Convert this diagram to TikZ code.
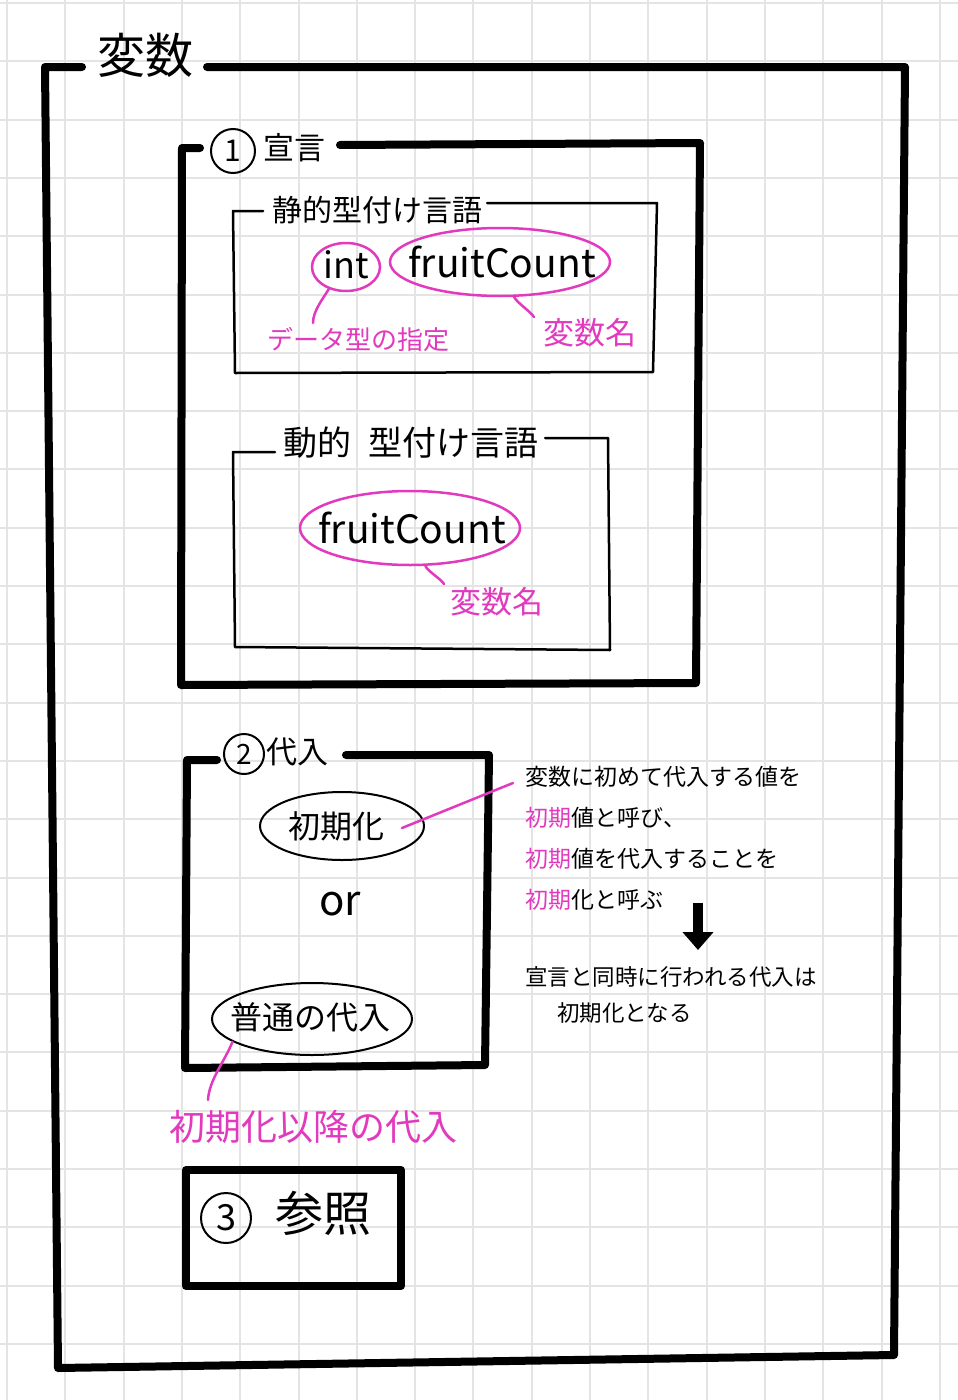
\documentclass[tikz,border=0pt]{standalone}
\usepackage{fontspec}
\setmainfont{Noto Sans CJK JP}
\usetikzlibrary{shapes.geometric,arrows.meta}
\definecolor{pinkc}{RGB}{226,58,190}
\definecolor{gridc}{RGB}{228,228,228}
\begin{document}
\begin{tikzpicture}[x=1pt,y=-1pt,
 gridline/.style={draw=gridc,line width=2pt},
 frame/.style={draw=black,line width=8pt,line cap=round,line join=round},
 thinframe/.style={draw=black,line width=2.5pt,line cap=round,line join=round},
 txt/.style={inner sep=0pt,text=black},
 pinktxt/.style={inner sep=0pt,text=pinkc},
 pinkell/.style={ellipse,draw=pinkc,line width=2.5pt,inner sep=0pt},
 blackell/.style={ellipse,draw=black,line width=2pt,inner sep=0pt},
 pinkline/.style={draw=pinkc,line width=2.5pt,line cap=round},
 numcirc/.style={circle,draw=black,line width=2pt,inner sep=0pt,text=black},
 fs/.style={font=\fontsize{#1}{#1}\selectfont},
]
\useasboundingbox (0,0) rectangle (958,1400);
\fill[white] (0,0) rectangle (958,1400);
% grid
\foreach \i in {0,...,16} \draw[gridline] ({7+58.3*\i},0) -- ({7+58.3*\i},1400);
\foreach \j in {0,...,24} \draw[gridline] (0,{3+58.3*\j}) -- (958,{3+58.3*\j});

% outer frame
\node[txt,fs=48] (title) at (145,55) {変数};
\draw[frame] (82,67) -- (45,67) -- (58,1368) -- (894,1355) -- (905,67) -- (207,67);

% box 1
\node[numcirc,minimum size=44pt,fs=30] (n1) at (233,151) {1};
\node[txt,anchor=west,fs=31] (t1) at (263,148) {宣言};
\draw[frame] (200,148) -- (182,148) -- (181,685) -- (696,683) -- (700,143) -- (340,145);

% static typing
\draw[thinframe] (263,211) -- (233,211) -- (235,373) -- (653,372) -- (657,203) -- (487,203);
\node[txt,fs=30] (st) at (377,210) {静的型付け言語};
\node[pinkell,minimum width=68pt,minimum height=48pt] (intE) at (346,267) {};
\node[txt,fs=36] (intT) at (346,265) {int};
\node[pinkell,minimum width=220pt,minimum height=68pt] (frE) at (500,262) {};
\node[txt,fs=39] (frT) at (502,262) {fruitCount};
\node[pinktxt,fs=26] (dataT) at (358,340) {データ型の指定};
\node[pinktxt,fs=31] (varT) at (590,333) {変数名};
\coordinate (dtop) at (313,323);
\coordinate (vtop) at (534,317);
\draw[pinkline] (intE.232) .. controls +(-6,10) and +(0,-12) .. (dtop);
\draw[pinkline] (frE.292) .. controls +(3,6) and +(-4,-6) .. (vtop);

% dynamic typing
\draw[thinframe] (275,452) -- (233,452) -- (235,647) -- (610,650) -- (608,438) -- (545,438);
\node[txt,fs=34] (dy) at (411,443) {動的\hspace{18pt}型付け言語};
\node[pinkell,minimum width=220pt,minimum height=74pt] (fr2E) at (410,528) {};
\node[txt,fs=39] (fr2T) at (412,528) {fruitCount};
\node[pinktxt,fs=31] (var2T) at (497,602) {変数名};
\coordinate (v2top) at (444,584);
\draw[pinkline] (fr2E.292) .. controls +(3,6) and +(-4,-6) .. (v2top);

% box 2
\node[numcirc,minimum size=40pt,fs=28] (n2) at (244,754) {2};
\node[txt,anchor=west,fs=31] (t2) at (266,752) {代入};
\draw[frame] (217,760) -- (187,760) -- (185,1068) -- (485,1065) -- (489,755) -- (346,755);
\node[blackell,minimum width=164pt,minimum height=68pt] (initE) at (342,826) {};
\node[txt,fs=32] (initT) at (336,826) {初期化};
\node[txt,fs=42] (orT) at (340,904) {or};
\node[blackell,minimum width=200pt,minimum height=72pt] (ordE) at (312,1019) {};
\node[txt,fs=32] (ordT) at (310,1017) {普通の代入};
\node[pinktxt,fs=36] (afterT) at (313,1127) {初期化以降の代入};
\coordinate (abot) at (208,1100);
\draw[pinkline] (ordE.196) .. controls +(-8,20) and +(1,-20) .. (abot);

% notes
\node[txt,anchor=west,align=left,font=\fontsize{23}{41}\selectfont] (note1) at (525,838)
 {変数に初めて代入する値を\\
  \textcolor{pinkc}{初期}値と呼び、\\
  \textcolor{pinkc}{初期}値を代入することを\\
  \textcolor{pinkc}{初期}化と呼ぶ};
\coordinate (initP) at (402,828);
\coordinate (noteP) at (513,783);
\draw[pinkline] (initP) -- (noteP);
\coordinate (arrS) at (698,903);
\coordinate (arrE) at (698,950);
\draw[line width=10pt,-{Triangle[width=30pt,length=18pt]}] (arrS) -- (arrE);
\node[txt,anchor=west,align=left,font=\fontsize{22.5}{36}\selectfont] (note2) at (525,995)
 {宣言と同時に行われる代入は\\
  \hspace*{32pt}初期化となる};

% box 3
\draw[frame] (186,1170) rectangle (401,1286);
\node[numcirc,minimum size=50pt,fs=36] (n3) at (226,1218) {3};
\node[txt,fs=48] (t3) at (323,1213) {参照};
\end{tikzpicture}
\end{document}
